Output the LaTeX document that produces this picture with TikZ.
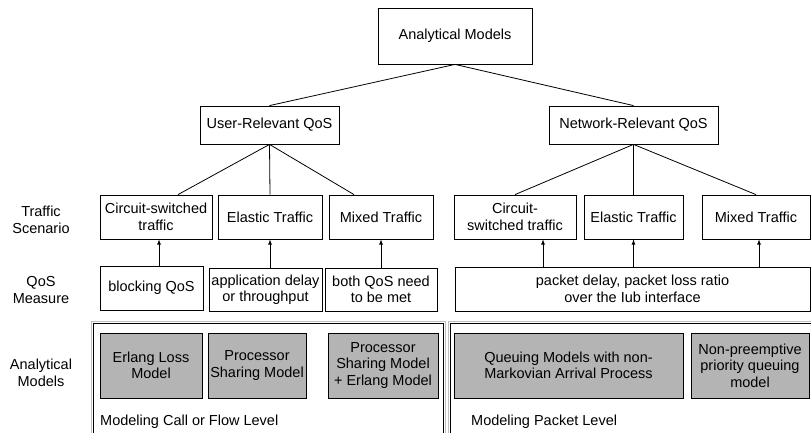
\documentclass[tikz,border=0pt]{standalone}
\usepackage{fontspec}
\setmainfont{Liberation Sans}
\usepackage{tikz}
\usetikzlibrary{shapes,arrows,positioning}
\definecolor{modelgray}{RGB}{180,180,180}

\begin{document}
\begin{tikzpicture}[x=1pt, y=-1pt,
    font=\fontsize{14.5}{16.5}\selectfont,
    box/.style={draw, rectangle, line width=0.8pt, align=center, inner sep=1pt},
    model/.style={box, fill=modelgray},
    rowlabel/.style={align=center, inner sep=0pt},
    link/.style={line width=0.8pt},
    up/.style={->, >=latex, line width=0.8pt}]
    \useasboundingbox (0,0) rectangle (811,433);

    % tree part
    \node[box, minimum width=154, minimum height=56] (root) at (455,36) {Analytical Models};
    \node[box, minimum width=139, minimum height=38] (user) at (269.5,125) {User-Relevant QoS};
    \node[box, minimum width=169, minimum height=38] (net) at (633.5,125) {Network-Relevant QoS};

    % traffic scenario
    \node[box, minimum width=112, minimum height=44] (cs1) at (156,217) {Circuit-switched\\traffic};
    \node[box, minimum width=104, minimum height=44] (el1) at (270,217) {Elastic Traffic};
    \node[box, minimum width=104, minimum height=44] (mx1) at (381,217) {Mixed Traffic};
    \node[box, minimum width=122, minimum height=44] (cs2) at (515,217) {Circuit-\\switched traffic};
    \node[box, minimum width=99, minimum height=44] (el2) at (633.5,217) {Elastic Traffic};
    \node[box, minimum width=108, minimum height=44] (mx2) at (756,217) {Mixed Traffic};

    % qos measure
    \node[box, minimum width=103, minimum height=44] (bq) at (151.5,288) {blocking QoS};
    \node[box, minimum width=113, minimum height=43] (ad) at (265.5,289.5) {application delay\\or throughput};
    \node[box, minimum width=112, minimum height=43] (bo) at (381,289.5) {both QoS need\\to be met};
    \node[box, minimum width=355, minimum height=44] (pk) at (632.5,289) {packet delay, packet loss ratio\\over the Iub interface};

    % level frames
    \draw[gray!50, line width=1pt] (91,434) |- (445,321) -- (445,434);
    \draw[line width=0.8pt] (93,434) |- (443,323) -- (443,434);
    \draw[gray!50, line width=1pt] (448,434) |- (812,321);
    \draw[line width=0.8pt] (450,434) |- (812,323);

    % models
    \node[model, minimum width=102, minimum height=65] (erl) at (151,365.5) {Erlang Loss\\Model};
    \node[model, minimum width=98, minimum height=65] (ps) at (257,365.5) {Processor\\Sharing Model};
    \node[model, minimum width=110, minimum height=65] (pse) at (383,365.5) {Processor\\Sharing Model\\+ Erlang Model};
    \node[model, minimum width=229, minimum height=65] (qm) at (568.5,365.5) {Queuing Models with non-\\Markovian Arrival Process};
    \node[model, minimum width=118, minimum height=65] (np) at (750,365.5) {Non-preemptive\\priority queuing\\model};

    \node[anchor=west, inner sep=0pt] (callvl) at (100,422) {Modeling Call or Flow Level};
    \node[anchor=west, inner sep=0pt] (pktlvl) at (471,422) {Modeling Packet Level};

    % row labels
    \node[rowlabel] (lbtraffic) at (41,220) {Traffic\\Scenario};
    \node[rowlabel] (lbqos) at (41,290) {QoS\\Measure};
    \node[rowlabel] (lbmodel) at (41,373) {Analytical\\Models};

    \draw[link] (root.south) -- (user.north);
    \draw[link] (root.south) -- (net.north);
    \draw[link] (user.south) -- ([xshift=22pt]cs1.north);
    \draw[link] (user.south) -- (el1.north);
    \draw[link] (user.south) -- ([xshift=-27pt]mx1.north);
    \draw[link] (net.south) -- (cs2.north);
    \draw[link] (net.south) -- (el2.north);
    \draw[link] (net.south) -- (mx2.north);

    \draw[up] ([xshift=3pt]cs1.south |- bq.north) -- ([xshift=3pt]cs1.south);
    \draw[up] (el1.south |- ad.north) -- (el1.south);
    \draw[up] (mx1.south |- bo.north) -- (mx1.south);
    \draw[up] ([xshift=28pt]cs2.south |- pk.north) -- ([xshift=28pt]cs2.south);
    \draw[up] (el2.south |- pk.north) -- (el2.south);
    \draw[up] ([xshift=3pt]mx2.south |- pk.north) -- ([xshift=3pt]mx2.south);
\end{tikzpicture}
\end{document}
